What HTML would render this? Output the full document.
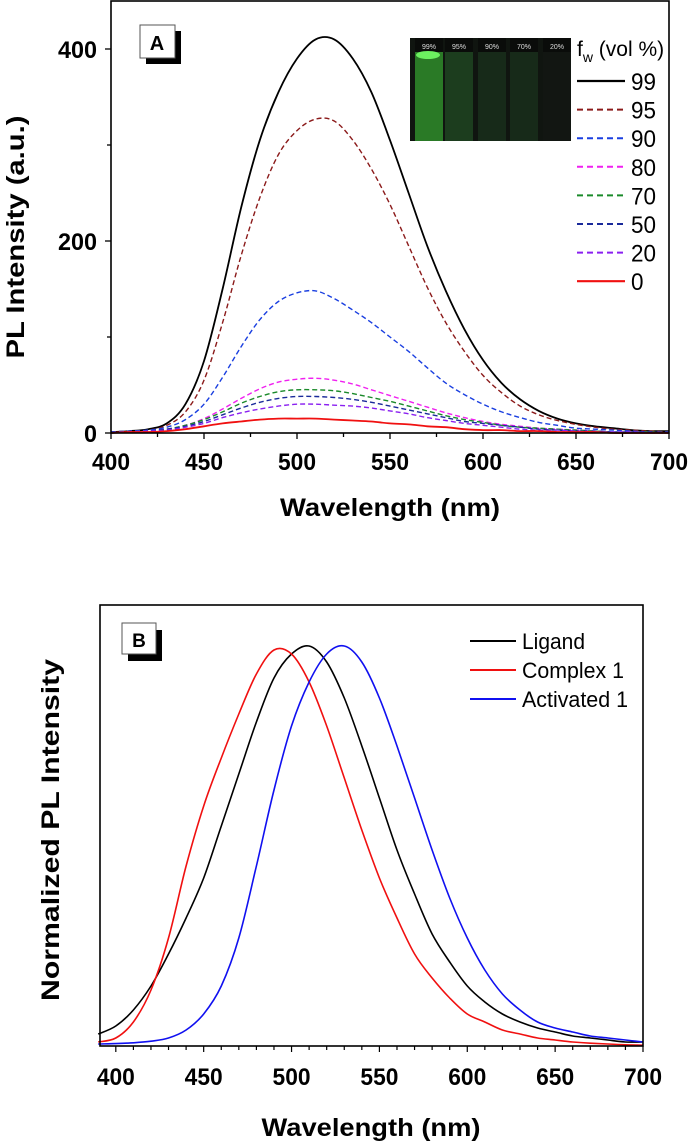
<!DOCTYPE html>
<html><head><meta charset="utf-8"><style>
html,body{margin:0;padding:0;background:#fff;}
svg{display:block;font-family:"Liberation Sans",sans-serif;}
.tk{font-weight:bold;font-size:24px;}
.ttl{font-weight:bold;font-size:25px;}
</style></head><body>
<svg id="fig" width="688" height="1142" viewBox="0 0 688 1142">
<rect width="688" height="1142" fill="#fff"/>
<g id="A"></g>
<g id="B"></g>
</svg>
<script>
// ---------- Panel A data ----------
const wlA = [400,410,420,430,440,450,460,470,480,490,500,510,520,530,540,550,560,570,580,590,600,610,620,630,640,650,660,670,680,690,700];
const fwLabels = ["99","95","90","80","70","50","20","0"];
const s99 = [1,2,4,10,30,75,150,235,305,355,390,410,410,390,355,305,250,195,148,108,76,52,35,23,15,10,7,5,3,2,2];
const s95 = [1,2,3,8,22,55,115,185,245,290,315,327,325,305,275,238,195,152,115,85,60,42,28,19,13,9,6,4,3,2,1];
const s90 = [1,2,3,6,14,30,58,90,118,137,146,148,140,128,115,100,85,68,52,40,30,22,16,11,8,5,4,3,2,1,1];
const s80 = [0,1,2,4,8,15,25,36,46,53,56,57,55,51,45,39,33,27,21,16,12,9,7,5,4,3,2,1,1,1,0];
const s70 = [0,1,2,4,8,14,22,31,38,43,45,45,44,41,37,33,28,23,18,14,11,8,6,5,4,3,2,1,1,1,0];
const s50 = [0,1,2,4,7,12,19,26,32,36,38,38,37,35,32,28,24,20,16,12,10,8,6,4,3,2,2,1,1,1,0];
const s20 = [0,1,2,3,6,10,16,21,25,28,30,30,29,28,26,23,20,16,13,10,8,6,4,3,3,2,1,1,1,0,0];
const s0  = [0,1,1,2,4,7,10,12,14,15,15,15,14,13,12,10,9,7,6,4,3,3,2,2,1,1,1,0,0,0,0];
const seriesA = [s99,s95,s90,s80,s70,s50,s20,s0];
const colorsA = ["#000","#8b1a1a","#1a3fe0","#f020f0","#1a8a2a","#1a2a9a","#8a20f0","#f01010"];
const xTicksA = [400,450,500,550,600,650,700];
const yTicksA = [0,200,400];
// ---------- Panel B data ----------
const wlB = [390,400,410,420,430,440,450,460,470,480,490,500,510,520,530,540,550,560,570,580,590,600,610,620,630,640,650,660,670,680,690,700];
const ligand = [.03,.05,.09,.15,.23,.32,.42,.55,.68,.81,.92,.98,1,.96,.87,.75,.62,.49,.38,.28,.21,.15,.11,.08,.06,.045,.035,.025,.02,.015,.01,.01];
const complex1 = [.01,.02,.06,.14,.27,.45,.6,.72,.83,.93,.99,.98,.91,.8,.67,.54,.42,.32,.23,.17,.12,.08,.06,.04,.03,.02,.015,.01,.007,.005,.003,.002];
const activated1 = [.005,.006,.008,.012,.02,.04,.08,.15,.27,.45,.64,.8,.91,.98,1,.96,.87,.75,.62,.49,.37,.27,.19,.13,.09,.06,.045,.035,.025,.02,.015,.01];
const seriesB = [ligand,complex1,activated1];
const namesB = ["Ligand","Complex 1","Activated 1"];
const colorsB = ["#000","#f01010","#1010f0"];
const xTicksB = [400,450,500,550,600,650,700];

const NS="http://www.w3.org/2000/svg";
function mk(parent,tag,attrs,text){const e=document.createElementNS(NS,tag);for(const k in attrs)e.setAttribute(k,attrs[k]);if(text!==undefined)e.textContent=text;parent.appendChild(e);return e;}
function smooth(pts){
  let d='M'+pts[0][0].toFixed(1)+','+pts[0][1].toFixed(1);
  for(let i=0;i<pts.length-1;i++){
    const p0=pts[Math.max(0,i-1)],p1=pts[i],p2=pts[i+1],p3=pts[Math.min(pts.length-1,i+2)];
    const c1x=p1[0]+(p2[0]-p0[0])/6,c1y=p1[1]+(p2[1]-p0[1])/6;
    const c2x=p2[0]-(p3[0]-p1[0])/6,c2y=p2[1]-(p3[1]-p1[1])/6;
    d+='C'+c1x.toFixed(1)+','+c1y.toFixed(1)+' '+c2x.toFixed(1)+','+c2y.toFixed(1)+' '+p2[0].toFixed(1)+','+p2[1].toFixed(1);
  }
  return d;
}

// ---------- Panel A ----------
const A=document.getElementById('A');
const xA=v=>111+(v-400)*(669-111)/300;
const yA=v=>433-v*(433-49)/400;
const inset=mk(A,'g',{});


mk(inset,'rect',{x:410,y:38,width:157,height:103,fill:'#101510'});
const tubeX=[415,445,478,510,543];
const tubeLbl=["99%","95%","90%","70%","20%"];
const tubeCol=["#2a7a26","#1c3d1e","#172a19","#172a19","#121612"];
tubeX.forEach((tx,i)=>{
  mk(inset,'rect',{x:tx,y:52,width:28,height:89,fill:tubeCol[i]});
  mk(inset,'rect',{x:tx,y:38,width:28,height:14,fill:'#0a0c0a'});
  if(i===0) mk(inset,'ellipse',{cx:tx+13,cy:55,rx:12,ry:4,fill:'#6cf060'});
  const t=mk(inset,'text',{x:tx+14,y:49,fill:'#ddd','font-size':'7','text-anchor':'middle'},tubeLbl[i]);
  
  
});
seriesA.forEach((s,i)=>{
  const d=smooth(s.map((v,j)=>[xA(wlA[j]),yA(v)]));
  const solid=(i===0||i===7);
  const p=mk(A,'path',{d,fill:'none',stroke:colorsA[i],'stroke-width':solid?1.8:1.4,'stroke-dasharray':solid?'none':'5,3','stroke-linejoin':'round'});
  
  
});
const frA=mk(A,'rect',{x:111,y:1,width:558,height:432,fill:'none',stroke:'#000','stroke-width':1.6});


for(let v=400;v<=700;v+=25){const maj=v%50===0;mk(A,'line',{x1:xA(v),x2:xA(v),y1:433,y2:433+(maj?6:4),stroke:'#000','stroke-width':1.3});}
for(let v=0;v<=400;v+=100){const maj=v%200===0;mk(A,'line',{x1:111,x2:111-(maj?6:4),y1:yA(v),y2:yA(v),stroke:'#000','stroke-width':1.3});}
xTicksA.forEach(v=>{const t=mk(A,'text',{x:xA(v),y:470,'text-anchor':'middle',class:'tk',textLength:38,lengthAdjust:'spacingAndGlyphs'},String(v));
  });
yTicksA.forEach(v=>{const s=String(v);const t=mk(A,'text',{x:97,y:yA(v)+9,'text-anchor':'end',class:'tk',textLength:s.length*13,lengthAdjust:'spacingAndGlyphs'},s);
  });
const xtA=mk(A,'text',{x:390,y:516,'text-anchor':'middle',class:'ttl',textLength:220,lengthAdjust:'spacingAndGlyphs'},'Wavelength (nm)');

const ytA=mk(A,'text',{x:0,y:0,'text-anchor':'middle',class:'ttl','font-size':'28',textLength:243,lengthAdjust:'spacingAndGlyphs',transform:'translate(24,237) rotate(-90)'},'PL Intensity (a.u.)');

mk(A,'rect',{x:146,y:31,width:35,height:33,fill:'#000'});
mk(A,'rect',{x:140,y:25,width:35,height:33,fill:'#fff',stroke:'#555','stroke-width':1});
const la=mk(A,'text',{x:157,y:50,'text-anchor':'middle','font-weight':'bold','font-size':'20'},'A');

const lgA=mk(A,'g',{});

const lt=mk(lgA,'text',{x:577,y:56,'font-size':'21'});
lt.innerHTML='f<tspan font-size="14" dy="6">w</tspan><tspan dy="-6"> (vol %)</tspan>';
fwLabels.forEach((lab,i)=>{
  const y=81+i*28.6;
  const g=mk(lgA,'g',{});
  
  
  const solid=(i===0||i===7);
  mk(g,'line',{x1:577,x2:625,y1:y,y2:y,stroke:colorsA[i],'stroke-width':solid?2.2:2,'stroke-dasharray':solid?'none':'6,4'});
  mk(g,'text',{x:631,y:y+9,'font-size':'24',textLength:lab.length*12.5,lengthAdjust:'spacingAndGlyphs'},lab);
});

// ---------- Panel B ----------
const B=document.getElementById('B');
const xB=v=>100+(v-391)*(643-100)/309;
const yB=v=>1046-v*(1046-646);
seriesB.forEach((s,i)=>{
  const d=smooth(s.map((v,j)=>[xB(wlB[j]),yB(v)]));
  const p=mk(B,'path',{d,fill:'none',stroke:colorsB[i],'stroke-width':1.6,'stroke-linejoin':'round'});
  
  
});
const frB=mk(B,'rect',{x:100,y:605,width:543,height:441,fill:'none',stroke:'#000','stroke-width':1.6});

for(let v=400;v<=700;v+=10){const maj=v%50===0;mk(B,'line',{x1:xB(v),x2:xB(v),y1:1046,y2:1046+(maj?6:4),stroke:'#000','stroke-width':1.2});}
xTicksB.forEach(v=>{const t=mk(B,'text',{x:xB(v),y:1085,'text-anchor':'middle',class:'tk',textLength:38,lengthAdjust:'spacingAndGlyphs'},String(v));
  });
const xtB=mk(B,'text',{x:371,y:1136,'text-anchor':'middle',class:'ttl','font-size':'27',textLength:219,lengthAdjust:'spacingAndGlyphs'},'Wavelength (nm)');

const ytB=mk(B,'text',{x:0,y:0,'text-anchor':'middle',class:'ttl','font-size':'26',textLength:342,lengthAdjust:'spacingAndGlyphs',transform:'translate(59,830) rotate(-90)'},'Normalized PL Intensity');

mk(B,'rect',{x:128,y:630,width:34,height:31,fill:'#000'});
mk(B,'rect',{x:122,y:623,width:34,height:31,fill:'#fff',stroke:'#555','stroke-width':1});
const lb=mk(B,'text',{x:139,y:647,'text-anchor':'middle','font-weight':'bold','font-size':'19'},'B');

const lgB=mk(B,'g',{});

const lenB=[63,102,106];
namesB.forEach((n,i)=>{
  const y=641+i*29;
  const g=mk(lgB,'g',{});
  
  
  mk(g,'line',{x1:470,x2:516,y1:y,y2:y,stroke:colorsB[i],'stroke-width':2});
  mk(g,'text',{x:522,y:y+8,'font-size':'22',textLength:lenB[i],lengthAdjust:'spacingAndGlyphs'},n);
});
</script>
</body></html>
